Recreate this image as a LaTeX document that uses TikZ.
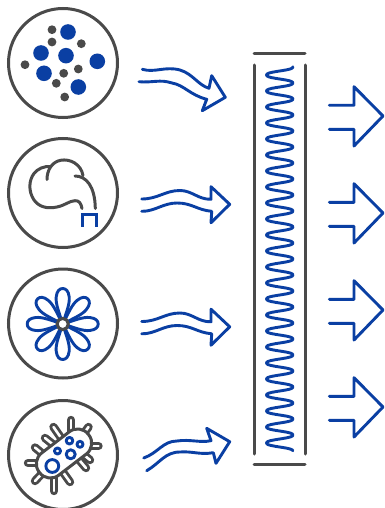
\documentclass[tikz,border=0pt]{standalone}
\definecolor{blu}{HTML}{0A3FA3}
\definecolor{gry}{HTML}{4A4A4A}
\tikzset{
  ringg/.style={draw=gry,line width=3pt,fill=white},
  gline/.style={draw=gry,line width=3pt,line cap=round,line join=round},
  bline/.style={draw=blu,line width=2.9pt,line cap=round,line join=round},
  gdot/.style={fill=gry},
  bdot/.style={fill=blu},
  leg/.style={line cap=round,draw=gry,line width=8.4pt,postaction={draw=white,line width=2.6pt}},
  petal/.style={bline}
}
\begin{document}
\begin{tikzpicture}[x=1pt,y=-1pt]
\useasboundingbox[fill=white] (0,0) rectangle (385,508);
% circle 1
\path[ringg] (63,63) circle (54.5);
\foreach \x/\y in {52/29.7,52/42,81.3/43.7,25/64.7,63.7/73.3,78.3/69,56.3/83.3,64.7/97}
  \fill[gdot] (\x,\y) circle (4.4);
\foreach \x/\y in {68/32,41/53,66/55.7,97.3/61.3,44/73.3,78.3/87}
  \fill[bdot] (\x,\y) circle (7.8);
% circle 2
\path[ringg] (63,193) circle (54.5);
\draw[gline] (82,208.5) .. controls (81,203) and (79,200.5) .. (75,200.7)
  .. controls (69,201) and (66,205) .. (57,207)
  .. controls (47,209) and (39,207) .. (34,200)
  .. controls (28,191) and (29,180) .. (34,173.5)
  .. controls (38,168.5) and (44,166) .. (51,166.5);
\draw[gline] (47,179.5) .. controls (47,170) and (52,162) .. (60.5,160.3)
  .. controls (70,158.5) and (81,164) .. (83,175.5);
\draw[gline] (75,176) .. controls (86,176) and (95,186) .. (95.3,208.5);
\draw[draw=blu,line width=3pt,line join=miter] (82.3,226.7) -- (82.3,214.7) -- (96,214.7) -- (96,226.7);
% circle 3
\path[ringg] (63,323.5) circle (54.5);
\foreach \a in {0,45,...,315}
  \draw[petal,rotate around={\a:(62.7,324)}] (62.7,324)
    .. controls (59,312) and (55.5,304) .. (56.2,297)
    .. controls (56.8,291) and (59.5,288.5) .. (62.7,288.5)
    .. controls (65.9,288.5) and (68.6,291) .. (69.2,297)
    .. controls (69.9,304) and (66.4,312) .. (62.7,324) -- cycle;
\path[draw=gry,line width=3pt,fill=white] (62.7,324) circle (5.6);
% circle 4
\path[ringg] (63,455) circle (54.5);
\foreach \xa/\ya/\xb/\yb in {71/420/71/440, 88.5/427/75/445, 98.5/446/80/446, 90/460/78/450,
   53.5/427/66/445, 45/438/60/450, 35/447.5/50/460, 28/463/50/463, 35/481/50/465,
   54/491/54/475, 70/482/60/468, 86/468/75/455}
  \draw[leg] (\xa,\ya) -- (\xb,\yb);
\draw[draw=gry,line width=3pt,fill=white,rounded corners=13.5pt,rotate around={37.5:(64,453.5)}] (33,439.5) rectangle (95,467.5);
\foreach \x/\y/\r in {52.3/466/6.4, 57.5/451/3, 69.5/440.7/3.3, 80/444.3/3, 70.7/454.3/4.5}
  \draw[bline] (\x,\y) circle (\r);
% wavy arrows
\draw[bline] (142.3,69.3) .. controls (155,73) and (165,66) .. (180,70)
  .. controls (193,74) and (198,85) .. (209,88.3)
  -- (211.7,75.7) -- (225.3,97.3) -- (202.3,110.7) -- (206.7,99.3)
  .. controls (190,95) and (184,85) .. (172,83)
  .. controls (160,79) and (152,83) .. (139,81.7);
\foreach \dy in {0,122.5}
  \draw[bline,yshift={-\dy}] (141.7,199) .. controls (158,199) and (165,190.5) .. (180,190.5)
    .. controls (192,190.5) and (198,199.5) .. (211,199.3)
    -- (211,186.7) -- (229.7,204.3) -- (211,222.7) -- (211.7,211.3)
    .. controls (197,210) and (192,203) .. (177,203)
    .. controls (163,203) and (155,211.5) .. (141.7,211.3);
\draw[bline] (143.7,458) .. controls (158,453) and (163,441) .. (177,441)
  .. controls (190,439) and (200,443) .. (211,440.7)
  -- (206.7,428.3) -- (229.7,441.7) -- (216,463.3) -- (213.3,452.7)
  .. controls (200,455) and (192,451) .. (180,452)
  .. controls (165,452) and (160,463) .. (146.7,470.7);
% filter
\draw[gline] (254,54) -- (305,54);
\draw[gline] (254,464) -- (305,464);
\draw[gline] (254.5,65) -- (254.5,454);
\draw[gline] (305,65) -- (305,454);
\draw[bline] plot[domain=66.8:450.8,samples=500] ({279.7-14*(cos(mod(22.5*(\x-75),360))-0.06*cos(3*mod(22.5*(\x-75),360)))},\x);
% output arrows
\foreach \dy in {0,97,194,291}
  \draw[bline,yshift={-\dy}] (329.3,105.3) -- (354,105.3) -- (354,86.7) -- (383,116)
    -- (354,146) -- (354,129.3) -- (329.3,129.3);
\end{tikzpicture}
\end{document}
